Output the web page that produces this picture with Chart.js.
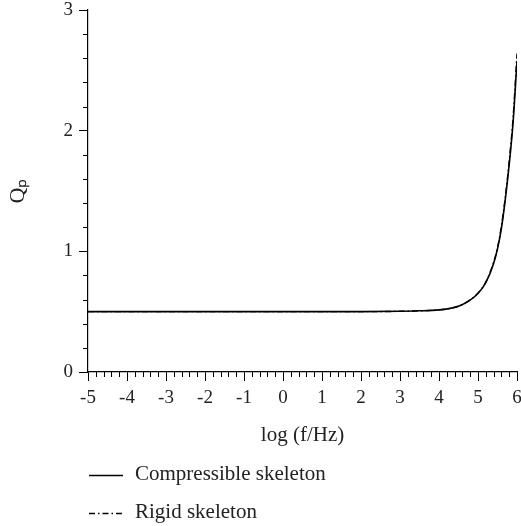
<!DOCTYPE html>
<html>
<head>
<meta charset="utf-8">
<script src="https://cdn.jsdelivr.net/npm/chart.js@4.4.1/dist/chart.umd.min.js"></script>
<style>
  html, body { margin: 0; padding: 0; background: #fff; }
  #wrap { width: 521px; height: 526px; position: relative; }
</style>
</head>
<body>
<div id="wrap"><canvas id="chartQp"></canvas></div>
<script>
// log(f/Hz) sample positions
var logF = [-5, -4, -3, -2, -1, 0, 1, 2, 3, 3.5, 4, 4.25, 4.5, 4.75, 5, 5.2, 5.4, 5.5, 5.6, 5.7, 5.8, 5.9, 6];
// Qp for both skeleton models
var compressible = [0.5, 0.5, 0.5, 0.5, 0.5, 0.5, 0.5, 0.5, 0.503, 0.507, 0.515, 0.525, 0.545, 0.585, 0.65, 0.74, 0.9, 1.02, 1.19, 1.43, 1.72, 2.07, 2.58];
var rigid        = [0.5, 0.5, 0.5, 0.5, 0.5, 0.5, 0.5, 0.5, 0.503, 0.507, 0.515, 0.525, 0.546, 0.588, 0.655, 0.745, 0.91, 1.03, 1.21, 1.45, 1.75, 2.11, 2.64];
var seriesNames = ['Compressible skeleton', 'Rigid skeleton'];
var xRange = [-5, 6];
var yRange = [0, 3];

var FONT = "'Liberation Serif', 'Times New Roman', serif";

function pairs(xs, ys) {
  return xs.map(function (x, i) { return { x: x, y: ys[i] }; });
}

function isMajor(v) { return Math.abs(v - Math.round(v)) < 1e-6; }

// short minor ticks between the integer ones
var minorTicks = {
  id: 'minorTicks',
  afterDraw: function (chart) {
    var ctx = chart.ctx;
    ctx.save();
    ctx.strokeStyle = '#000';
    ctx.lineWidth = 1;
    ['x', 'y'].forEach(function (id) {
      var s = chart.scales[id];
      s.ticks.forEach(function (t) {
        if (isMajor(t.value)) return;
        var p = Math.round(s.getPixelForValue(t.value)) + 0.5;
        ctx.beginPath();
        if (id === 'x') { ctx.moveTo(p, s.top); ctx.lineTo(p, s.top + 5); }
        else { ctx.moveTo(s.right, p); ctx.lineTo(s.right - 5, p); }
        ctx.stroke();
      });
    });
    ctx.restore();
  }
};

// two-row legend under the axis title
var stackedLegend = {
  id: 'stackedLegend',
  afterDraw: function (chart) {
    var ctx = chart.ctx;
    var rows = [chart.height - 51, chart.height - 13];
    ctx.save();
    ctx.font = '21px ' + FONT;
    ctx.textBaseline = 'middle';
    ctx.fillStyle = '#222';
    chart.data.datasets.forEach(function (ds, i) {
      var y = rows[i] + 0.5;
      ctx.strokeStyle = ds.borderColor;
      ctx.lineWidth = ds.borderWidth;
      ctx.setLineDash(ds.borderDash || []);
      ctx.beginPath();
      ctx.moveTo(89, y);
      ctx.lineTo(123, y);
      ctx.stroke();
      ctx.setLineDash([]);
      ctx.fillText(ds.label, 135, rows[i] - 1);
    });
    ctx.restore();
  }
};

new Chart(document.getElementById('chartQp'), {
  type: 'line',
  data: {
    datasets: [
      { label: seriesNames[0], data: pairs(logF, compressible), borderColor: '#000', borderWidth: 1.6, pointRadius: 0, cubicInterpolationMode: 'monotone', fill: false },
      { label: seriesNames[1], data: pairs(logF, rigid), borderColor: '#000', borderWidth: 1.4, borderDash: [6, 3, 1.5, 3], pointRadius: 0, cubicInterpolationMode: 'monotone', fill: false }
    ]
  },
  options: {
    responsive: true,
    maintainAspectRatio: false,
    animation: false,
    layout: { padding: { top: 10, right: 4, bottom: 74, left: 0 } },
    plugins: { legend: { display: false }, tooltip: { enabled: false } },
    scales: {
      x: {
        type: 'linear', min: xRange[0], max: xRange[1],
        afterFit: function (s) { s.height = 80; s.paddingLeft = 0; s.paddingRight = 0; },
        border: { display: true, color: '#000', width: 1.2 },
        grid: { drawOnChartArea: false, drawTicks: true, tickLength: 9, tickWidth: 1,
                tickColor: function (c) { return isMajor(c.tick.value) ? '#000' : 'rgba(0,0,0,0)'; } },
        ticks: { stepSize: 0.2, autoSkip: false, maxRotation: 0, padding: 6, color: '#222',
                 font: { family: FONT, size: 19 },
                 callback: function (v) { return isMajor(v) ? String(Math.round(v)) : ''; } },
        title: { display: true, text: 'log (f/Hz)', color: '#222', font: { family: FONT, size: 21 }, padding: { top: 0, bottom: 4 } }
      },
      y: {
        type: 'linear', min: yRange[0], max: yRange[1],
        afterFit: function (s) { s.width = 88; s.paddingTop = 0; s.paddingBottom = 0; },
        border: { display: true, color: '#000', width: 1.2 },
        grid: { drawOnChartArea: false, drawTicks: true, tickLength: 9, tickWidth: 1,
                tickColor: function (c) { return isMajor(c.tick.value) ? '#000' : 'rgba(0,0,0,0)'; } },
        ticks: { stepSize: 0.2, autoSkip: false, padding: 6, color: '#222',
                 font: { family: FONT, size: 19 },
                 callback: function (v) { return isMajor(v) ? String(Math.round(v)) : ''; } },
        title: { display: true, text: 'Qₚ', color: '#222', font: { family: FONT, size: 22 }, padding: { top: 5, bottom: 0 } }
      }
    }
  },
  plugins: [minorTicks, stackedLegend]
});
</script>
</body>
</html>
